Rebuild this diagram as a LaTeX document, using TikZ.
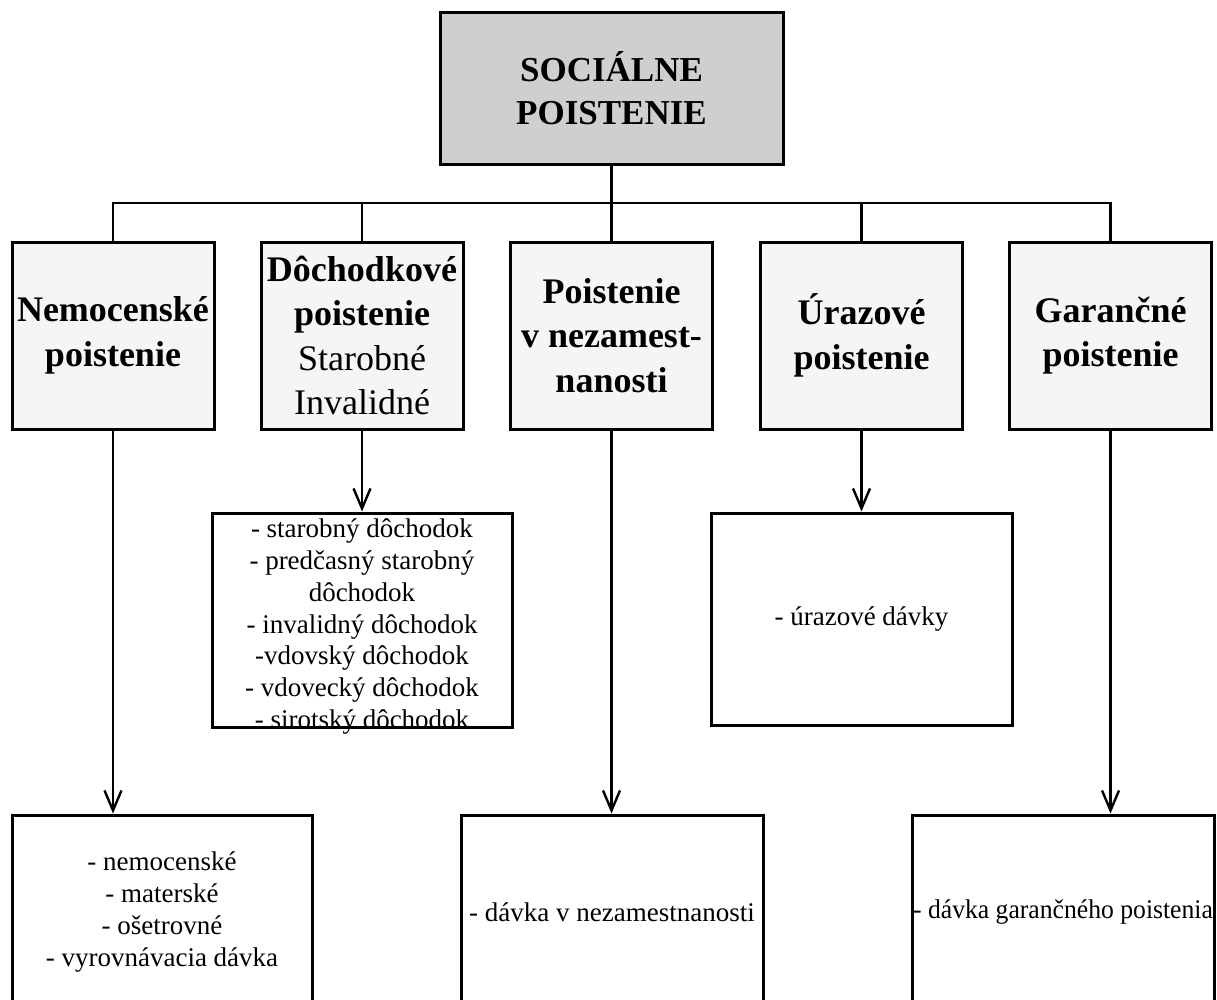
\documentclass[tikz,border=0pt]{standalone}
\usepackage{fontspec}
\setmainfont{Liberation Serif}
\usetikzlibrary{arrows.meta}
\begin{document}
\begin{tikzpicture}[x=1pt,y=-1pt,
  box/.style={draw=black, line width=3pt, inner sep=0pt, align=center},
  topbox/.style={box, fill=black!19, minimum width=343pt, minimum height=152pt,
    font=\fontsize{35}{43}\selectfont\bfseries},
  kindbox/.style={box, fill=black!4, minimum width=202pt, minimum height=187pt,
    font=\fontsize{36}{44.5}\selectfont},
  listfont/.style={font=\fontsize{27}{31.7}\selectfont},
  listbox/.style={box, fill=white, listfont},
  listtext/.style={inner sep=0pt, align=center, listfont},
  link/.style={line width=2.4pt},
  flow/.style={link, -{Straight Barb[length=20pt,width=17pt]}}
]
\useasboundingbox (0,0) rectangle (1217,999);
\fill[white] (0,0) rectangle (1217,999);

% root
\node[topbox] (root) at (611.5,88) {SOCIÁLNE\\POISTENIE};

% branches of the insurance
\node[kindbox] (nem) at (113,335.5)   {\bfseries Nemocenské\\\bfseries poistenie};
\node[kindbox] (doc) at (362,335.5)   {\bfseries Dôchodkové\\\bfseries poistenie\\Starobné\\Invalidné};
\node[kindbox] (nez) at (611.5,335.5) {\bfseries Poistenie\\\bfseries v nezamest-\\\bfseries nanosti};
\node[kindbox] (ura) at (861.5,335.5) {\bfseries Úrazové\\\bfseries poistenie};
\node[kindbox] (gar) at (1110.5,335.5){\bfseries Garančné\\\bfseries poistenie};

% benefits; the pension list runs over the lower edge of its box
\node[listbox, minimum width=300pt, minimum height=214pt] (docl) at (362,620) {};
\node[listtext, anchor=north] (docltext) at ([yshift=-7.5pt]docl.north)
  {- starobný dôchodok\\- predčasný starobný\\dôchodok\\- invalidný dôchodok\\-vdovský dôchodok\\- vdovecký dôchodok\\- sirotský dôchodok};
\node[listbox, minimum width=301pt, minimum height=212pt] (ural) at (861.5,619)
  {- úrazové dávky};
\node[listbox, minimum width=300pt, minimum height=194pt] (neml) at (162,912)
  {- nemocenské\\- materské\\- ošetrovné\\- vyrovnávacia dávka};
\node[listbox, minimum width=302pt, minimum height=194pt] (nezl) at (612,912)
  {- dávka v nezamestnanosti};
\node[listbox, minimum width=302pt, minimum height=194pt] (garl) at (1063,912)
  {\scalebox{0.95}[1]{- dávka garančného poistenia}};

% tree connectors
\coordinate (bus) at (611.5,203);
\draw[link] (root.south) -- (bus);
\draw[link] (nem.north) -- (nem.north |- bus) -- (gar.north |- bus) -- (gar.north);
\draw[link] (doc.north) -- (doc.north |- bus);
\draw[link] (nez.north) -- (nez.north |- bus);
\draw[link] (ura.north) -- (ura.north |- bus);

% arrows to the benefits
\draw[flow] (nem.south) -- (nem.south |- neml.north);
\draw[flow] (doc.south) -- (docl.north);
\draw[flow] (nez.south) -- (nez.south |- nezl.north);
\draw[flow] (ura.south) -- (ural.north);
\draw[flow] (gar.south) -- (gar.south |- garl.north);
\end{tikzpicture}
\end{document}
